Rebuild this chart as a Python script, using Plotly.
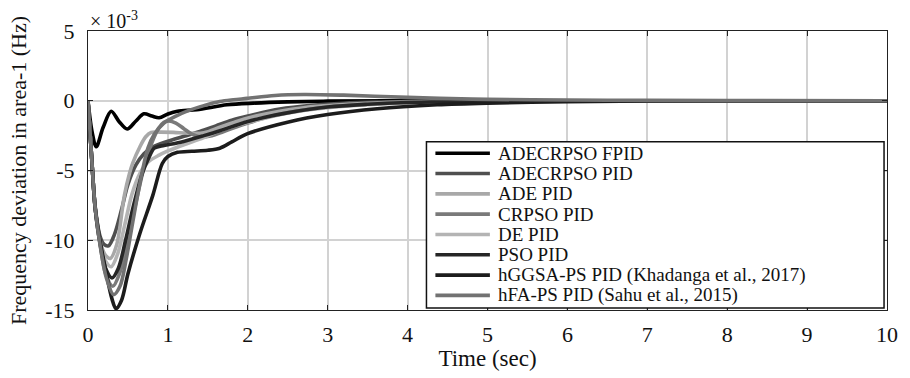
import plotly.graph_objects as go

# Frequency deviation in area-1 (units of 1e-3 Hz) versus time (s)
t_fpid = [0, 0.05, 0.103, 0.19, 0.29, 0.39, 0.49, 0.6, 0.7, 0.8, 0.89, 1.0, 1.12, 1.36, 1.74, 2.07, 2.5, 3, 4, 6, 10]
y_fpid = [0, -2.2, -3.3, -1.9, -0.75, -1.5, -2.03, -1.45, -0.94, -1.1, -1.22, -0.95, -0.75, -0.64, -0.29, -0.17, -0.08, -0.03, 0, 0, 0]

t_adecrpso = [0, 0.045, 0.09, 0.15, 0.2, 0.256, 0.33, 0.42, 0.5, 0.6, 0.7, 0.8, 0.9, 1.0, 1.2, 1.4, 1.6, 1.8, 2.0, 2.4, 2.8, 3.2, 3.6, 4, 5, 6, 10]
y_adecrpso = [0, -4, -7.6, -9.7, -10.3, -10.4, -9.6, -7.8, -6.0, -4.6, -3.8, -3.35, -3.1, -2.9, -2.55, -2.2, -1.8, -1.4, -1.1, -0.6, -0.33, -0.18, -0.1, -0.05, -0.01, 0, 0]

t_ade = [0, 0.045, 0.09, 0.15, 0.21, 0.28, 0.36, 0.455, 0.52, 0.56, 0.65, 0.72, 0.79, 0.9, 1.07, 1.25, 1.45, 1.65, 1.85, 2.1, 2.4, 2.7, 3, 3.5, 4, 5, 6, 10]
y_ade = [0, -4, -7.6, -10.0, -11.0, -11.3, -10.3, -6.8, -5.2, -4.47, -3.3, -2.6, -2.27, -2.25, -2.27, -2.33, -2.3, -1.9, -1.5, -1.1, -0.75, -0.5, -0.35, -0.18, -0.09, -0.03, -0.01, 0]

t_crpso = [0, 0.045, 0.09, 0.15, 0.22, 0.31, 0.4, 0.5, 0.6, 0.7, 0.8, 0.88, 0.95, 1.01, 1.1, 1.2, 1.3, 1.41, 1.55, 1.7, 2.0, 2.3, 2.6, 3, 3.5, 4, 5, 6, 10]
y_crpso = [0, -4, -7.7, -10.2, -12.4, -13.3, -12.3, -10.0, -7.3, -4.8, -3.0, -2.0, -1.55, -1.45, -1.6, -2.0, -2.4, -2.6, -2.5, -2.2, -1.6, -1.1, -0.75, -0.45, -0.25, -0.13, -0.04, -0.01, 0]

t_de = [0, 0.045, 0.09, 0.15, 0.22, 0.29, 0.37, 0.46, 0.55, 0.65, 0.75, 0.89, 1.0, 1.2, 1.4, 1.72, 2.0, 2.51, 3, 3.5, 4, 5, 6, 10]
y_de = [0, -4, -7.7, -10.2, -11.5, -11.9, -11.0, -8.9, -6.7, -5.2, -4.4, -3.9, -3.6, -3.15, -2.75, -2.0, -1.55, -0.87, -0.5, -0.28, -0.15, -0.05, -0.01, 0]

t_pso = [0, 0.045, 0.09, 0.15, 0.22, 0.3, 0.38, 0.47, 0.57, 0.68, 0.76, 0.83, 0.95, 1.1, 1.24, 1.45, 1.65, 1.99, 2.2, 2.51, 3, 3.5, 4, 5, 6, 10]
y_pso = [0, -4, -7.7, -10.2, -12.0, -12.7, -12.0, -10.0, -7.5, -5.2, -4.1, -3.4, -3.2, -3.05, -2.85, -2.5, -2.15, -1.5, -1.2, -0.85, -0.45, -0.25, -0.13, -0.04, -0.01, 0]

t_hggsa = [0, 0.045, 0.09, 0.15, 0.23, 0.3, 0.35, 0.42, 0.5, 0.65, 0.81, 0.93, 1.0, 1.12, 1.3, 1.5, 1.65, 1.8, 1.99, 2.51, 3.0, 3.62, 4.37, 5, 6, 7, 10]
y_hggsa = [0, -4, -7.7, -10, -12.4, -14.2, -14.9, -14.3, -12.4, -9.5, -6.8, -4.5, -4.0, -3.7, -3.62, -3.55, -3.4, -2.95, -2.38, -1.52, -0.99, -0.57, -0.29, -0.17, -0.06, -0.02, 0]

t_hfa = [0, 0.045, 0.09, 0.15, 0.23, 0.32, 0.4, 0.48, 0.56, 0.65, 0.75, 0.83, 0.95, 1.1, 1.24, 1.45, 1.65, 1.82, 1.99, 2.34, 2.7, 3.2, 4, 4.4, 5, 6, 7, 8, 10]
y_hfa = [0, -4, -7.7, -10.3, -12.7, -13.9, -13.3, -11.3, -8.7, -5.9, -3.4, -2.4, -1.6, -1.1, -0.74, -0.35, -0.06, 0.07, 0.17, 0.38, 0.45, 0.4, 0.24, 0.17, 0.1, 0.05, 0.03, 0.01, 0]

names = [
    "ADECRPSO FPID",
    "ADECRPSO PID",
    "ADE PID",
    "CRPSO PID",
    "DE PID",
    "PSO PID",
    "hGGSA-PS PID (Khadanga et al., 2017)",
    "hFA-PS PID (Sahu et al., 2015)",
]
series_t = [t_fpid, t_adecrpso, t_ade, t_crpso, t_de, t_pso, t_hggsa, t_hfa]
series_y = [y_fpid, y_adecrpso, y_ade, y_crpso, y_de, y_pso, y_hggsa, y_hfa]
colors = ["#000000", "#4f4f4f", "#a8a8a8", "#7a7a7a", "#b4b4b4", "#262626", "#1c1c1c", "#727272"]

x_ticks = list(range(0, 11))
y_ticks = [-15, -10, -5, 0, 5]
y_ticktext = ["-15", "-10", "-5", "0", "5"]

FONT = "'Liberation Serif', 'Times New Roman', Times, serif"
INK = "#111111"

fig = go.Figure()
for t, y, name, c in zip(series_t, series_y, names, colors):
    fig.add_trace(go.Scatter(
        x=t, y=y, name=name, mode="lines",
        line=dict(color=c, width=3.6, shape="spline", smoothing=0.9),
        showlegend=False,
    ))

# Boxed legend in the lower right of the axes
lx0, lx1 = 0.4236, 0.9963
ly0, ly1 = 0.007, 0.603
shapes = [dict(type="rect", xref="paper", yref="paper", x0=lx0, x1=lx1, y0=ly0, y1=ly1,
               line=dict(color=INK, width=1.5), fillcolor="white", layer="above")]
annotations = []
row_top = 0.562
row_step = 20.9 / 287
for i, (name, c) in enumerate(zip(names, colors)):
    yy = row_top - i * row_step
    shapes.append(dict(type="line", xref="paper", yref="paper", x0=0.4348, x1=0.503, y0=yy, y1=yy,
                       line=dict(color=c, width=3.6), layer="above"))
    annotations.append(dict(xref="paper", yref="paper", x=0.511, y=yy, text=name, showarrow=False,
                            xanchor="left", yanchor="middle", font=dict(family=FONT, size=19, color=INK)))

annotations.append(dict(xref="paper", yref="paper", x=0.0, y=1.0, xanchor="left", yanchor="bottom",
                        text="× 10<sup>-3</sup>", showarrow=False, yshift=-3,
                        font=dict(family=FONT, size=20, color=INK)))

axis_common = dict(
    showgrid=True, gridcolor="#d2d2d2", gridwidth=1.5,
    showline=True, linecolor="#222222", linewidth=1.2, mirror="ticks",
    ticks="inside", ticklen=5, tickcolor="#222222", tickwidth=1,
    zeroline=False, tickfont=dict(family=FONT, size=22, color=INK),
)

fig.update_layout(
    width=910, height=378,
    margin=dict(l=88, r=17, t=31, b=60),
    paper_bgcolor="white", plot_bgcolor="white",
    font=dict(family=FONT, color=INK),
    xaxis=dict(range=[0, 10], tickvals=x_ticks,
               title=dict(text="Time (sec)", font=dict(family=FONT, size=23, color=INK), standoff=3),
               ticklabelstandoff=4, **axis_common),
    yaxis=dict(range=[-15, 5], tickvals=y_ticks, ticktext=y_ticktext,
               title=dict(text="Frequency deviation in area-1 (Hz)", font=dict(family=FONT, size=22, color=INK), standoff=12),
               ticklabelstandoff=8, **axis_common),
    shapes=shapes, annotations=annotations,
    showlegend=False,
)

fig.write_html("out.html")
